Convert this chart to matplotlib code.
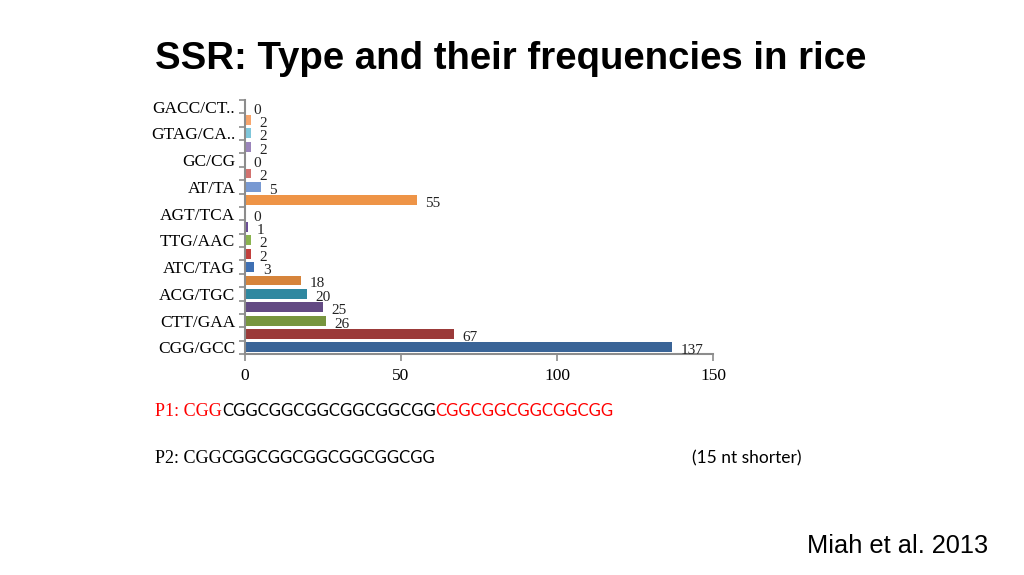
import matplotlib
matplotlib.use("Agg")
import matplotlib.pyplot as plt

# data, bottom bar first (as excel draws it)
categories = ["CGG/GCC", "", "CTT/GAA", "", "ACG/TGC", "", "ATC/TAG", "", "TTG/AAC", "",
              "AGT/TCA", "", "AT/TA", "", "GC/CG", "", "GTAG/CA..", "", "GACC/CT.."]
counts = [137, 67, 26, 25, 20, 18, 3, 2, 2, 1, 0, 55, 5, 2, 0, 2, 2, 2, 0]
bar_colors = ["#3a6497", "#9b3a39", "#77953e", "#634a83", "#2f88a0", "#d6843b",
              "#3f70b3", "#c2403d", "#8ab34f", "#6b4e96", "#4bacc6", "#ee9447",
              "#7899d2", "#d2726f", "#9bbb59", "#9a84ba", "#7fc6da", "#f7a56c", "#4f81bd"]
x_ticks = [0, 50, 100, 150]

p1_parts = [("P1: CGG", "red", "serif"), ("CGGCGGCGGCGGCGGCGG", "black", "sans"),
            ("CGGCGGCGGCGGCGG", "red", "sans")]
p2_parts = [("P2: CGG", "black", "serif"), ("CGGCGGCGGCGGCGGCGG", "black", "sans")]

fig = plt.figure(figsize=(10.24, 5.75), dpi=100)
fig.patch.set_facecolor("white")

ax = fig.add_axes([245 / 1024, 221 / 575, 468 / 1024, 254 / 575])
ypos = list(range(len(counts)))
ax.barh(ypos, counts, height=0.74, color=bar_colors)
for y, v in zip(ypos, counts):
    ax.annotate(str(v), xy=(v, y), xytext=(6, -2.5), textcoords="offset points",
                ha="left", va="center", family="Liberation Serif", fontsize=11,
                color="#222222")

ax.set_xlim(0, 150)
ax.set_ylim(-0.5, len(counts) - 0.5)
ax.set_xticks(x_ticks)
ax.set_xticklabels([str(t) for t in x_ticks], family="Liberation Serif", fontsize=12.5)
ax.set_yticks(ypos)
ax.set_yticklabels(categories, family="Liberation Serif", fontsize=12.5)
ax.set_yticks([i - 0.5 for i in range(len(counts) + 1)], minor=True)
ax.tick_params(axis="y", which="major", length=0, pad=7)
ax.tick_params(axis="y", which="minor", length=4, color="#8c8c8c", width=1.2)
ax.tick_params(axis="x", length=5, color="#8c8c8c", width=1.2, pad=5)
for s in ["top", "right"]:
    ax.spines[s].set_visible(False)
for s in ["left", "bottom"]:
    ax.spines[s].set_color("#8c8c8c")
    ax.spines[s].set_linewidth(1.5)

fig.text(155 / 1024, 1 - 59 / 575, "SSR: Type and their frequencies in rice",
         family="Liberation Sans", fontweight="bold", fontsize=27.6, va="center", ha="left")


def seq_line(parts, x0, y0):
    prev = None
    for txt, col, kind in parts:
        fam = "Liberation Serif" if kind == "serif" else "Lato"
        size = 13 if kind == "serif" else 12.1
        if prev is None:
            prev = fig.text(x0, y0, txt, color=col, family=fam, fontsize=size, va="baseline")
        else:
            prev = fig.add_artist(plt.Annotation(txt, xy=(1, y0), xycoords=(prev, "figure fraction"),
                                                 color=col, family=fam, fontsize=size,
                                                 ha="left", va="baseline"))


seq_line(p1_parts, 155 / 1024, 1 - 416 / 575)
seq_line(p2_parts, 155 / 1024, 1 - 463 / 575)

fig.text(692 / 1024, 1 - 463 / 575, "(15 nt shorter)", family="Lato", fontsize=12.5, va="baseline")
fig.text(988 / 1024, 1 - 553 / 575, "Miah et al. 2013", family="Liberation Sans", fontsize=18.3,
         ha="right", va="baseline")

fig.savefig("out.png", dpi=100, facecolor="white")
